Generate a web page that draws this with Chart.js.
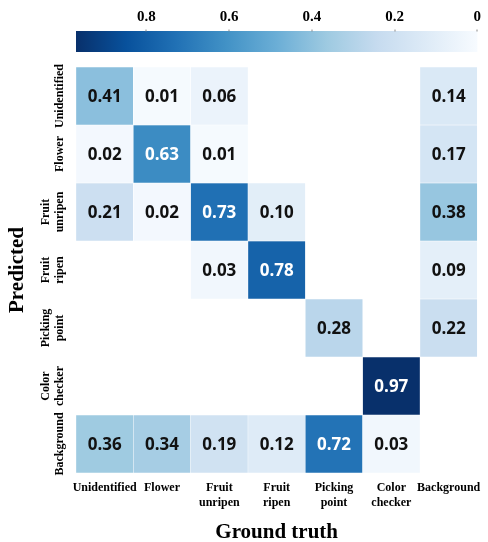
<!DOCTYPE html>
<html><head><meta charset="utf-8">
<script src="https://cdn.jsdelivr.net/npm/chart.js@4.4.0/dist/chart.umd.min.js"></script>
<style>html,body{margin:0;padding:0;background:#fff}#wrap{width:488px;height:542px}</style>
</head><body><div id="wrap"><canvas id="c" width="488" height="542"></canvas></div>
<script>
const groundTruthLabels = [['Unidentified'], ['Flower'], ['Fruit', 'unripen'], ['Fruit', 'ripen'], ['Picking', 'point'], ['Color', 'checker'], ['Background']];
const predictedLabels = [['Unidentified'], ['Flower'], ['Fruit', 'unripen'], ['Fruit', 'ripen'], ['Picking', 'point'], ['Color', 'checker'], ['Background']];

const predUnidentified = [0.41, 0.01, 0.06, 0, 0, 0, 0.14];
const predFlower       = [0.02, 0.63, 0.01, 0, 0, 0, 0.17];
const predFruitUnripen = [0.21, 0.02, 0.73, 0.10, 0, 0, 0.38];
const predFruitRipen   = [0, 0, 0.03, 0.78, 0, 0, 0.09];
const predPickingPoint = [0, 0, 0, 0, 0.28, 0, 0.22];
const predColorChecker = [0, 0, 0, 0, 0, 0.97, 0];
const predBackground   = [0.36, 0.34, 0.19, 0.12, 0.72, 0.03, 0];

const colorbarTicks = [0, 0.2, 0.4, 0.6, 0.8];
const colorMax = 0.97;

const rows = [predUnidentified, predFlower, predFruitUnripen, predFruitRipen, predPickingPoint, predColorChecker, predBackground];

const BLUES = ['#f7fbff','#deebf7','#c6dbef','#9ecae1','#6baed6','#4292c6','#2171b5','#08519c','#08306b'];
function hex(h){return [parseInt(h.slice(1,3),16),parseInt(h.slice(3,5),16),parseInt(h.slice(5,7),16)];}
function blues(t){
  t = Math.max(0, Math.min(1, t));
  const p = t * (BLUES.length - 1);
  const i = Math.min(Math.floor(p), BLUES.length - 2);
  const f = p - i;
  const a = hex(BLUES[i]), b = hex(BLUES[i+1]);
  const c = a.map((v,k)=>Math.round(v + (b[k]-v)*f));
  return 'rgb(' + c.join(',') + ')';
}

const SERIF = "'Liberation Serif', 'Times New Roman', serif";

const datasets = rows.map((vals, r) => ({
  label: predictedLabels[r].join(' '),
  data: vals.map(() => 1),
  cellValues: vals,
  backgroundColor: vals.map(v => v > 0 ? blues(v / colorMax) : 'rgba(0,0,0,0)'),
  borderColor: vals.map(v => v > 0 ? '#ffffff' : 'rgba(0,0,0,0)'),
  borderWidth: 0.5,
  borderSkipped: false,
  barPercentage: 1,
  categoryPercentage: 1,
  xAxisID: 'x',
  yAxisID: 'y',
  stack: 'cm'
}));

const colorbarPlugin = {
  id: 'colorbar',
  afterDraw(chart) {
    const s = chart.scales.x2;
    const ctx = chart.ctx;
    const top = chart.chartArea.top - 36, h = 21;
    const xl = s.getPixelForValue(colorMax), xr = s.getPixelForValue(0);
    const g = ctx.createLinearGradient(xl, 0, xr, 0);
    BLUES.forEach((c, i) => g.addColorStop(1 - i / (BLUES.length - 1), c));
    ctx.save();
    ctx.fillStyle = g;
    ctx.fillRect(xl, top, xr - xl, h);
    ctx.fillStyle = '#888';
    colorbarTicks.forEach(v => {
      const px = Math.round(s.getPixelForValue(v));
      ctx.fillRect(px - 0.5, top - 1.5, 1, 2);
    });
    ctx.restore();
  }
};

const rowLabelPlugin = {
  id: 'rowLabels',
  afterDraw(chart) {
    const ys = chart.scales.y;
    const ctx = chart.ctx;
    const baseX = chart.chartArea.left - 13;
    ctx.save();
    ctx.font = 'bold 12px ' + SERIF;
    ctx.fillStyle = '#000';
    ctx.textAlign = 'center';
    ctx.textBaseline = 'alphabetic';
    predictedLabels.forEach((lines, r) => {
      const cy = ys.getPixelForValue(r + 0.5);
      ctx.save();
      ctx.translate(baseX, cy);
      ctx.rotate(-Math.PI / 2);
      const n = lines.length;
      lines.forEach((ln, k) => ctx.fillText(ln, 0, -(n - 1 - k) * 14));
      ctx.restore();
    });
    ctx.restore();
  }
};

const cellTextPlugin = {
  id: 'cellText',
  afterDatasetsDraw(chart) {
    const ctx = chart.ctx;
    ctx.save();
    ctx.font = "bold 17px 'Open Sans', 'Noto Sans', sans-serif";
    ctx.textAlign = 'center';
    ctx.textBaseline = 'middle';
    chart.data.datasets.forEach((ds, di) => {
      const meta = chart.getDatasetMeta(di);
      meta.data.forEach((el, i) => {
        const v = ds.cellValues[i];
        if (!(v > 0)) return;
        const cy = (el.y + el.base) / 2;
        ctx.fillStyle = (v / colorMax) > 0.6 ? '#ffffff' : '#111111';
        ctx.fillText(v.toFixed(2), el.x, cy + 1);
      });
    });
    ctx.restore();
  }
};

new Chart(document.getElementById('c'), {
  type: 'bar',
  data: { labels: groundTruthLabels, datasets },
  options: {
    responsive: false,
    animation: false,
    devicePixelRatio: 1,
    layout: { padding: { left: 0, right: 8, top: 0, bottom: 0 } },
    plugins: { legend: { display: false }, tooltip: { enabled: false } },
    scales: {
      x: {
        type: 'category',
        position: 'bottom',
        stacked: true,
        grid: { display: false, drawTicks: false },
        border: { display: false },
        ticks: {
          color: '#000', padding: 7, maxRotation: 0, minRotation: 0, autoSkip: false,
          font: { family: SERIF, size: 12, weight: 'bold', lineHeight: 1.25 }
        },
        title: {
          display: true, text: 'Ground truth', color: '#000',
          font: { family: SERIF, size: 21, weight: 'bold', lineHeight: 0.9 },
          padding: { top: 0, bottom: 0 }
        },
        afterFit(s) { s.height = 69; }
      },
      x2: {
        type: 'linear',
        position: 'top',
        reverse: true,
        offset: false,
        min: 0,
        max: colorMax,
        grid: { display: false, drawTicks: false, offset: false },
        border: { display: false },
        afterBuildTicks(s) { s.ticks = colorbarTicks.map(v => ({ value: v })); },
        ticks: {
          color: '#000', padding: 41,
          font: { family: SERIF, size: 15, weight: 'bold', lineHeight: 1.2 },
          callback: v => v === 0 ? '0' : v.toFixed(1)
        },
        afterFit(s) { s.height = 67; }
      },
      y: {
        type: 'linear',
        min: 0,
        max: 7,
        reverse: true,
        stacked: true,
        grid: { display: false },
        border: { display: false },
        ticks: { display: false },
        title: {
          display: true, text: 'Predicted', color: '#000',
          font: { family: SERIF, size: 21, weight: 'bold', lineHeight: 1.2 },
          padding: { top: 5, bottom: 0 }
        },
        afterFit(s) { s.width = 76; }
      }
    }
  },
  plugins: [colorbarPlugin, rowLabelPlugin, cellTextPlugin]
});
</script>
</body></html>
